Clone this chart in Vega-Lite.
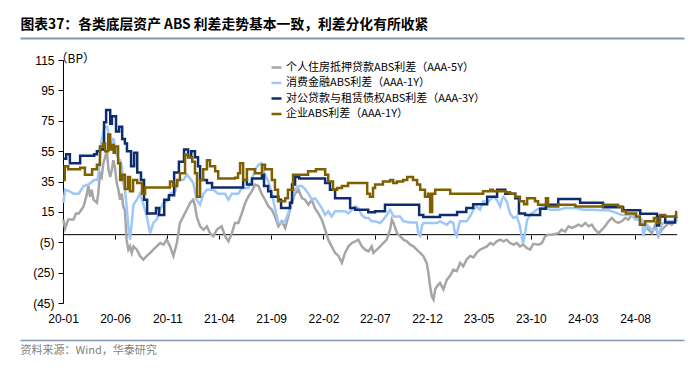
{
  "$schema": "https://vega.github.io/schema/vega-lite/v6.json",
  "width": 664,
  "height": 243,
  "autosize": {"type": "none"},
  "padding": {"left": 20, "top": 60, "right": 16, "bottom": 70},
  "background": "#ffffff",
  "config": {
    "view": {"stroke": null},
    "axis": {"grid": false, "labelFont": "Liberation Sans", "titleFont": "Noto Sans CJK SC"},
    "legend": {"labelFont": "Noto Sans CJK SC"}
  },
  "datasets": {
    "g": [
      {"d":"2020-01-02","v":10},{"d":"2020-01-07","v":4},{"d":"2020-01-16","v":9.9},{"d":"2020-02-01","v":9.9},{"d":"2020-02-08","v":14},{"d":"2020-02-16","v":14},{"d":"2020-03-01","v":18.6},{"d":"2020-03-10","v":26},{"d":"2020-03-15","v":32},{"d":"2020-03-20","v":25},{"d":"2020-03-25","v":29.6},{"d":"2020-03-30","v":23},{"d":"2020-04-09","v":21},{"d":"2020-04-13","v":27},{"d":"2020-04-18","v":40.5},{"d":"2020-04-23","v":38},{"d":"2020-04-28","v":47},{"d":"2020-05-08","v":55},{"d":"2020-05-13","v":42.8},{"d":"2020-05-18","v":38},{"d":"2020-05-23","v":43},{"d":"2020-05-27","v":49},{"d":"2020-06-01","v":44},{"d":"2020-06-06","v":34},{"d":"2020-06-11","v":29.6},{"d":"2020-06-16","v":23},{"d":"2020-06-21","v":27},{"d":"2020-06-25","v":18.6},{"d":"2020-06-30","v":16},{"d":"2020-07-05","v":-3.3},{"d":"2020-07-10","v":-9.9},{"d":"2020-07-15","v":-7.7},{"d":"2020-07-20","v":-12},{"d":"2020-07-25","v":-7.7},{"d":"2020-08-04","v":-9.9},{"d":"2020-08-13","v":-14},{"d":"2020-08-23","v":-16.4},{"d":"2020-09-02","v":-14},{"d":"2020-09-12","v":-12},{"d":"2020-09-21","v":-9.9},{"d":"2020-10-01","v":-7.7},{"d":"2020-10-11","v":-5.5},{"d":"2020-10-21","v":-6.6},{"d":"2020-10-30","v":-3.3},{"d":"2020-11-09","v":-7.7},{"d":"2020-11-19","v":-14},{"d":"2020-11-29","v":-5.5},{"d":"2020-12-08","v":7.7},{"d":"2020-12-18","v":12},{"d":"2020-12-28","v":16.4},
      {"d":"2021-01-07","v":21},{"d":"2021-01-16","v":23},{"d":"2021-01-21","v":19},{"d":"2021-01-26","v":12},{"d":"2021-02-05","v":5.5},{"d":"2021-02-15","v":3.3},{"d":"2021-02-25","v":5.5},{"d":"2021-03-06","v":1},{"d":"2021-03-16","v":-1},{"d":"2021-03-26","v":3.3},{"d":"2021-04-09","v":5.5},{"d":"2021-04-19","v":-1},{"d":"2021-04-29","v":-4.4},{"d":"2021-05-09","v":1},{"d":"2021-05-18","v":7.7},{"d":"2021-05-28","v":7.7},{"d":"2021-06-07","v":14},{"d":"2021-06-17","v":21},{"d":"2021-06-26","v":25},{"d":"2021-07-06","v":28.5},{"d":"2021-07-16","v":33},{"d":"2021-07-26","v":32},{"d":"2021-08-04","v":27},{"d":"2021-08-14","v":23},{"d":"2021-08-24","v":18.6},{"d":"2021-09-03","v":16.4},{"d":"2021-09-12","v":12},{"d":"2021-09-22","v":5.5},{"d":"2021-10-02","v":8.8},{"d":"2021-10-12","v":4.4},{"d":"2021-10-21","v":12},{"d":"2021-10-31","v":21},{"d":"2021-11-10","v":27},{"d":"2021-11-20","v":29.6},{"d":"2021-11-30","v":24},{"d":"2021-12-09","v":23},{"d":"2021-12-19","v":19.7},{"d":"2021-12-29","v":23},
      {"d":"2022-01-07","v":17.5},{"d":"2022-01-17","v":14},{"d":"2022-01-27","v":9.9},{"d":"2022-02-06","v":3.3},{"d":"2022-02-15","v":-3.3},{"d":"2022-02-25","v":-7.7},{"d":"2022-03-07","v":-12},{"d":"2022-03-17","v":-14},{"d":"2022-03-27","v":-18.6},{"d":"2022-04-05","v":-12},{"d":"2022-04-15","v":-7.7},{"d":"2022-04-25","v":-5.5},{"d":"2022-05-05","v":-4.4},{"d":"2022-05-14","v":-3.3},{"d":"2022-05-24","v":-7.7},{"d":"2022-06-03","v":-9.9},{"d":"2022-06-13","v":-11},{"d":"2022-06-22","v":-7.7},{"d":"2022-06-27","v":-12},{"d":"2022-07-07","v":-9.9},{"d":"2022-07-17","v":-7.7},{"d":"2022-07-26","v":-5.5},{"d":"2022-08-05","v":-3.3},{"d":"2022-08-15","v":3.3},{"d":"2022-08-20","v":9.9},{"d":"2022-08-25","v":7.7},{"d":"2022-09-04","v":1},{"d":"2022-09-13","v":-1},{"d":"2022-09-23","v":-3.3},{"d":"2022-10-03","v":-4.4},{"d":"2022-10-13","v":-6.6},{"d":"2022-10-22","v":-7.7},{"d":"2022-11-01","v":-9.9},{"d":"2022-11-11","v":-12},{"d":"2022-11-20","v":-14},{"d":"2022-11-30","v":-18.6},{"d":"2022-12-05","v":-25},{"d":"2022-12-10","v":-34},{"d":"2022-12-15","v":-40.6},{"d":"2022-12-20","v":-42.8},{"d":"2022-12-25","v":-36},{"d":"2022-12-30","v":-34},
      {"d":"2023-01-08","v":-31.8},{"d":"2023-01-18","v":-36},{"d":"2023-01-28","v":-29.6},{"d":"2023-02-07","v":-27},{"d":"2023-02-16","v":-23},{"d":"2023-02-26","v":-24},{"d":"2023-03-08","v":-18.6},{"d":"2023-03-17","v":-20.8},{"d":"2023-03-27","v":-16.4},{"d":"2023-04-06","v":-14},{"d":"2023-04-16","v":-15},{"d":"2023-04-25","v":-12},{"d":"2023-05-05","v":-9.9},{"d":"2023-05-15","v":-8.8},{"d":"2023-05-25","v":-7.7},{"d":"2023-06-04","v":-5.5},{"d":"2023-06-13","v":-6.6},{"d":"2023-06-23","v":-4.4},{"d":"2023-07-03","v":-3.3},{"d":"2023-07-13","v":-4.4},{"d":"2023-07-22","v":-3.3},{"d":"2023-08-01","v":-5.5},{"d":"2023-08-11","v":-6.6},{"d":"2023-08-21","v":-5.5},{"d":"2023-08-30","v":-7.7},{"d":"2023-09-09","v":-6.6},{"d":"2023-09-19","v":-8.8},{"d":"2023-09-29","v":-9.9},{"d":"2023-10-08","v":-6},{"d":"2023-10-23","v":-6.6},{"d":"2023-11-02","v":-5.5},{"d":"2023-11-12","v":-1},{"d":"2023-11-21","v":0},{"d":"2023-12-01","v":0},{"d":"2023-12-21","v":1},{"d":"2023-12-30","v":3.3},
      {"d":"2024-01-09","v":2},{"d":"2024-01-19","v":5.5},{"d":"2024-01-29","v":4.4},{"d":"2024-02-08","v":5.5},{"d":"2024-02-17","v":6.6},{"d":"2024-02-27","v":5.5},{"d":"2024-03-08","v":7.7},{"d":"2024-03-18","v":5.5},{"d":"2024-03-27","v":6.6},{"d":"2024-04-06","v":3.3},{"d":"2024-04-16","v":1},{"d":"2024-04-26","v":3.3},{"d":"2024-05-05","v":5.5},{"d":"2024-05-15","v":8.8},{"d":"2024-05-25","v":11},{"d":"2024-06-03","v":8.8},{"d":"2024-06-13","v":7.7},{"d":"2024-06-23","v":8.8},{"d":"2024-07-03","v":11},{"d":"2024-07-12","v":9.9},{"d":"2024-07-22","v":13},{"d":"2024-08-01","v":12},{"d":"2024-08-11","v":9.9},{"d":"2024-08-21","v":7.7},{"d":"2024-08-30","v":5.5},{"d":"2024-09-09","v":3.3},{"d":"2024-09-19","v":1},{"d":"2024-09-29","v":6.6},{"d":"2024-10-08","v":-1},{"d":"2024-10-18","v":3.3},{"d":"2024-10-28","v":5.5},{"d":"2024-11-07","v":7.7},{"d":"2024-11-16","v":6.6},{"d":"2024-11-26","v":8.8},{"d":"2024-12-02","v":10}
    ],
    "l": [
      {"d":"2020-01-02","v":21},{"d":"2020-01-07","v":29.6},{"d":"2020-01-16","v":29},{"d":"2020-02-01","v":27},{"d":"2020-02-16","v":27},{"d":"2020-03-01","v":32},{"d":"2020-03-16","v":33},{"d":"2020-04-01","v":36},{"d":"2020-04-11","v":36},{"d":"2020-04-16","v":45},{"d":"2020-04-21","v":60},{"d":"2020-05-01","v":71},{"d":"2020-05-09","v":71},{"d":"2020-05-13","v":67},{"d":"2020-05-23","v":56},{"d":"2020-05-27","v":63.6},{"d":"2020-06-06","v":52.6},{"d":"2020-06-11","v":50},{"d":"2020-06-16","v":49},{"d":"2020-06-21","v":45},{"d":"2020-06-25","v":34},{"d":"2020-06-30","v":29.6},{"d":"2020-07-05","v":18.6},{"d":"2020-07-10","v":5.5},{"d":"2020-07-15","v":-3.3},{"d":"2020-07-20","v":7.7},{"d":"2020-07-25","v":19.7},{"d":"2020-08-04","v":23},{"d":"2020-08-13","v":27},{"d":"2020-08-23","v":20},{"d":"2020-09-02","v":12},{"d":"2020-09-12","v":1},{"d":"2020-09-21","v":7.7},{"d":"2020-10-01","v":9.9},{"d":"2020-10-11","v":16.4},{"d":"2020-10-21","v":21},{"d":"2020-10-30","v":22},{"d":"2020-11-09","v":27},{"d":"2020-11-24","v":28.5},{"d":"2020-12-03","v":36},{"d":"2020-12-18","v":36},{"d":"2020-12-28","v":39.5},
      {"d":"2021-01-07","v":37},{"d":"2021-01-16","v":34},{"d":"2021-01-26","v":23},{"d":"2021-02-05","v":19.7},{"d":"2021-02-15","v":27},{"d":"2021-02-25","v":29.6},{"d":"2021-03-16","v":29.6},{"d":"2021-03-30","v":27},{"d":"2021-04-19","v":27},{"d":"2021-04-29","v":23},{"d":"2021-05-09","v":27},{"d":"2021-05-28","v":27},{"d":"2021-06-07","v":30.7},{"d":"2021-06-26","v":30.7},{"d":"2021-07-06","v":36},{"d":"2021-07-16","v":42.8},{"d":"2021-07-26","v":46},{"d":"2021-08-04","v":47},{"d":"2021-08-14","v":39.5},{"d":"2021-08-24","v":35},{"d":"2021-09-03","v":27},{"d":"2021-09-12","v":17.5},{"d":"2021-09-22","v":7.7},{"d":"2021-10-02","v":7.7},{"d":"2021-10-12","v":9},{"d":"2021-10-21","v":14},{"d":"2021-10-31","v":23},{"d":"2021-11-10","v":29.6},{"d":"2021-11-20","v":32},{"d":"2021-11-30","v":32},{"d":"2021-12-09","v":30},{"d":"2021-12-19","v":27},{"d":"2021-12-29","v":23},
      {"d":"2022-01-07","v":24},{"d":"2022-01-17","v":21},{"d":"2022-01-27","v":17.5},{"d":"2022-02-06","v":13},{"d":"2022-02-15","v":15.4},{"d":"2022-02-25","v":12},{"d":"2022-03-07","v":15.4},{"d":"2022-04-05","v":15.4},{"d":"2022-04-15","v":14},{"d":"2022-05-05","v":18.6},{"d":"2022-05-14","v":17.5},{"d":"2022-05-24","v":13},{"d":"2022-06-03","v":11},{"d":"2022-06-13","v":11},{"d":"2022-06-22","v":8.8},{"d":"2022-07-02","v":8.8},{"d":"2022-07-17","v":7.7},{"d":"2022-07-26","v":9.9},{"d":"2022-08-05","v":13},{"d":"2022-08-15","v":16.4},{"d":"2022-08-25","v":12},{"d":"2022-09-13","v":12},{"d":"2022-09-23","v":8.8},{"d":"2022-10-13","v":8},{"d":"2022-11-01","v":8},{"d":"2022-11-06","v":0},{"d":"2022-11-11","v":-1},{"d":"2022-11-16","v":5.5},{"d":"2022-11-20","v":7.7},{"d":"2022-12-30","v":7.7},
      {"d":"2023-01-08","v":8.8},{"d":"2023-01-28","v":6.6},{"d":"2023-02-07","v":8.8},{"d":"2023-02-16","v":7.7},{"d":"2023-02-21","v":1},{"d":"2023-02-26","v":-1},{"d":"2023-03-03","v":5.5},{"d":"2023-03-08","v":8.8},{"d":"2023-03-27","v":8.8},{"d":"2023-04-06","v":12},{"d":"2023-04-16","v":16.4},{"d":"2023-04-25","v":18.6},{"d":"2023-05-05","v":16.4},{"d":"2023-05-15","v":22},{"d":"2023-05-25","v":21},{"d":"2023-06-04","v":23},{"d":"2023-06-13","v":25},{"d":"2023-06-23","v":23},{"d":"2023-07-03","v":18.6},{"d":"2023-07-08","v":23},{"d":"2023-07-13","v":25},{"d":"2023-07-22","v":22},{"d":"2023-08-01","v":14},{"d":"2023-08-11","v":11},{"d":"2023-08-21","v":12},{"d":"2023-08-30","v":5.5},{"d":"2023-09-08","v":-6},{"d":"2023-09-14","v":1},{"d":"2023-09-20","v":9.9},{"d":"2023-09-29","v":13},{"d":"2023-10-04","v":14},{"d":"2023-10-18","v":16.4},{"d":"2023-11-07","v":18.6},{"d":"2023-11-26","v":16.4},{"d":"2023-12-21","v":16.4},
      {"d":"2024-01-09","v":17.5},{"d":"2024-02-08","v":17.5},{"d":"2024-03-03","v":16.4},{"d":"2024-03-27","v":16.4},{"d":"2024-04-26","v":16},{"d":"2024-05-15","v":16},{"d":"2024-06-03","v":14.7},{"d":"2024-06-23","v":13},{"d":"2024-07-22","v":13},{"d":"2024-08-01","v":9.9},{"d":"2024-08-21","v":9.9},{"d":"2024-08-25","v":-1},{"d":"2024-09-04","v":6.6},{"d":"2024-09-19","v":3.3},{"d":"2024-10-04","v":3.3},{"d":"2024-10-08","v":-1},{"d":"2024-10-18","v":6.6},{"d":"2024-10-28","v":8.8},{"d":"2024-11-26","v":8.8},{"d":"2024-12-02","v":12}
    ],
    "n": [
      {"d":"2020-01-02","v":50},{"d":"2020-01-10","v":53},{"d":"2020-01-21","v":47},{"d":"2020-02-20","v":52},{"d":"2020-04-01","v":53},{"d":"2020-04-09","v":55},{"d":"2020-04-18","v":56},{"d":"2020-04-30","v":74},{"d":"2020-05-06","v":82},{"d":"2020-05-18","v":73},{"d":"2020-05-23","v":78},{"d":"2020-06-04","v":68},{"d":"2020-06-13","v":71},{"d":"2020-06-22","v":63},{"d":"2020-06-30","v":60},{"d":"2020-07-06","v":55},{"d":"2020-07-18","v":45},{"d":"2020-07-27","v":54},{"d":"2020-08-05","v":41},{"d":"2020-08-16","v":36},{"d":"2020-08-25","v":23},{"d":"2020-09-03","v":14},{"d":"2020-09-29","v":17.5},{"d":"2020-10-08","v":13},{"d":"2020-10-23","v":23},{"d":"2020-11-06","v":26},{"d":"2020-11-21","v":41},{"d":"2020-12-05","v":48},{"d":"2020-12-20","v":56},
      {"d":"2021-01-01","v":51},{"d":"2021-01-10","v":55},{"d":"2021-01-21","v":51},{"d":"2021-01-30","v":45},{"d":"2021-02-05","v":36},{"d":"2021-02-25","v":34},{"d":"2021-03-12","v":31},{"d":"2021-06-11","v":36},{"d":"2021-06-22","v":33},{"d":"2021-07-07","v":37},{"d":"2021-08-05","v":39.5},{"d":"2021-08-11","v":32},{"d":"2021-08-23","v":28.5},{"d":"2021-09-01","v":25},{"d":"2021-09-22","v":23},{"d":"2021-09-30","v":17.5},{"d":"2021-10-26","v":21},{"d":"2021-11-01","v":33},{"d":"2021-11-10","v":38},{"d":"2021-11-22","v":37},
      {"d":"2022-02-06","v":34},{"d":"2022-02-20","v":29.6},{"d":"2022-03-07","v":24},{"d":"2022-04-20","v":17.5},{"d":"2022-05-05","v":16.4},{"d":"2022-06-12","v":14.7},{"d":"2022-07-02","v":15.4},{"d":"2022-07-31","v":19.7},{"d":"2022-11-08","v":13},{"d":"2022-11-20","v":11.6},
      {"d":"2023-01-08","v":13},{"d":"2023-02-27","v":15},{"d":"2023-03-26","v":17.5},{"d":"2023-04-15","v":20},{"d":"2023-05-26","v":25},{"d":"2023-06-24","v":29.6},{"d":"2023-07-18","v":27},{"d":"2023-08-16","v":24},{"d":"2023-08-27","v":14},{"d":"2023-09-14","v":13},{"d":"2023-10-28","v":17},{"d":"2023-11-14","v":19.7},{"d":"2023-12-20","v":23.5},
      {"d":"2024-02-22","v":21},{"d":"2024-04-29","v":18},{"d":"2024-06-27","v":16},{"d":"2024-08-16","v":13.8},{"d":"2024-10-04","v":6},{"d":"2024-10-10","v":12},{"d":"2024-10-28","v":8},{"d":"2024-11-26","v":12},{"d":"2024-12-02","v":12}
    ],
    "b": [
      {"d":"2020-01-02","v":36},{"d":"2020-01-06","v":45},{"d":"2020-01-16","v":43},{"d":"2020-02-20","v":44},{"d":"2020-03-05","v":39.5},{"d":"2020-03-26","v":43},{"d":"2020-04-09","v":46},{"d":"2020-04-18","v":58},{"d":"2020-04-27","v":60},{"d":"2020-05-03","v":55},{"d":"2020-05-12","v":66},{"d":"2020-05-18","v":56},{"d":"2020-05-23","v":59},{"d":"2020-05-28","v":54},{"d":"2020-06-01","v":58},{"d":"2020-06-10","v":47},{"d":"2020-06-16","v":36},{"d":"2020-06-22","v":39.5},{"d":"2020-06-30","v":30},{"d":"2020-07-09","v":38},{"d":"2020-07-15","v":28.5},{"d":"2020-07-24","v":36},{"d":"2020-08-05","v":34},{"d":"2020-08-19","v":27},{"d":"2020-08-28","v":31},{"d":"2020-11-09","v":35},{"d":"2020-11-18","v":32},{"d":"2020-11-30","v":36},{"d":"2020-12-08","v":40.5},{"d":"2020-12-23","v":52.6},
      {"d":"2021-01-01","v":51},{"d":"2021-01-13","v":48},{"d":"2021-01-21","v":40.5},{"d":"2021-01-27","v":25},{"d":"2021-02-05","v":36},{"d":"2021-02-14","v":43},{"d":"2021-02-25","v":49},{"d":"2021-03-06","v":45},{"d":"2021-03-21","v":41.7},{"d":"2021-03-30","v":37},{"d":"2021-05-18","v":37.5},{"d":"2021-05-27","v":40.5},{"d":"2021-06-02","v":47},{"d":"2021-06-11","v":36},{"d":"2021-06-22","v":43},{"d":"2021-07-16","v":40.5},{"d":"2021-08-05","v":46},{"d":"2021-08-14","v":43},{"d":"2021-09-03","v":36},{"d":"2021-09-12","v":29.6},{"d":"2021-09-21","v":22},{"d":"2021-10-12","v":24},{"d":"2021-10-20","v":29.6},{"d":"2021-11-04","v":39.5},{"d":"2021-12-18","v":41.7},
      {"d":"2022-01-10","v":43},{"d":"2022-02-06","v":39.5},{"d":"2022-02-15","v":35},{"d":"2022-03-01","v":29.6},{"d":"2022-03-13","v":30.7},{"d":"2022-03-27","v":32},{"d":"2022-04-14","v":34},{"d":"2022-06-09","v":27},{"d":"2022-06-17","v":25},{"d":"2022-06-26","v":30.7},{"d":"2022-07-02","v":33},{"d":"2022-07-25","v":35},{"d":"2022-08-15","v":36},{"d":"2022-08-24","v":34},{"d":"2022-09-04","v":35},{"d":"2022-09-22","v":36},{"d":"2022-10-04","v":38},{"d":"2022-10-21","v":36},{"d":"2022-11-02","v":33},{"d":"2022-11-11","v":29.6},{"d":"2022-11-25","v":25},{"d":"2022-12-04","v":27},{"d":"2022-12-10","v":15},{"d":"2022-12-16","v":27},{"d":"2022-12-25","v":29.6},
      {"d":"2023-02-07","v":27},{"d":"2023-05-14","v":28.5},{"d":"2023-06-04","v":29.6},{"d":"2023-06-12","v":28.5},{"d":"2023-07-18","v":28},{"d":"2023-08-01","v":27},{"d":"2023-08-16","v":25},{"d":"2023-08-30","v":22},{"d":"2023-09-11","v":20},{"d":"2023-09-20","v":24},{"d":"2023-10-13","v":22},{"d":"2023-10-22","v":19.7},{"d":"2023-11-14","v":24},{"d":"2023-11-20","v":18.6},{"d":"2023-12-20","v":19.7},
      {"d":"2024-02-08","v":18.6},{"d":"2024-04-29","v":19.7},{"d":"2024-06-12","v":18.6},{"d":"2024-06-24","v":15.4},{"d":"2024-07-05","v":14},{"d":"2024-08-04","v":12},{"d":"2024-08-15","v":6.6},{"d":"2024-08-30","v":8.8},{"d":"2024-09-25","v":11},{"d":"2024-10-04","v":7.7},{"d":"2024-10-13","v":13},{"d":"2024-10-28","v":12},{"d":"2024-11-29","v":15},{"d":"2024-12-02","v":15}
    ]
  },
  "resolve": {"axis": {"x": "independent", "y": "independent"}},
  "layer": [
    {
      "data": {"name": "g"},
      "mark": {"type": "rule", "color": "#000000", "strokeWidth": 1},
      "encoding": {
        "x": {"aggregate": "min", "field": "d", "type": "temporal", "axis": null,
              "scale": {"type": "utc", "domain": [{"year": 2019, "month": 8, "date": 28, "utc": true}, {"year": 2024, "month": 12, "date": 22, "utc": true}]}},
        "x2": {"aggregate": "max", "field": "d"},
        "y": {"datum": 0, "type": "quantitative", "axis": null, "scale": {"domain": [-45, 115], "nice": false, "zero": false}}
      }
    },
    {
      "data": {"name": "g"},
      "mark": {"type": "line", "strokeWidth": 2.5},
      "encoding": {
        "x": {"field": "d", "type": "temporal",
              "scale": {"type": "utc", "domain": [{"year": 2019, "month": 8, "date": 28, "utc": true}, {"year": 2024, "month": 12, "date": 22, "utc": true}]},
              "axis": {"orient": "bottom", "offset": -68, "domain": false, "ticks": true, "tickSize": 4, "tickColor": "#000000",
                       "labelPadding": 74, "labelFontSize": 12, "labelColor": "#000000", "labelFlush": false, "labelOverlap": false,
                       "format": "%y-%m", "title": null,
                       "values": [{"year":2020,"month":1,"date":1,"utc":true},{"year":2020,"month":6,"date":1,"utc":true},{"year":2020,"month":11,"date":1,"utc":true},{"year":2021,"month":4,"date":1,"utc":true},{"year":2021,"month":9,"date":1,"utc":true},{"year":2022,"month":2,"date":1,"utc":true},{"year":2022,"month":7,"date":1,"utc":true},{"year":2022,"month":12,"date":1,"utc":true},{"year":2023,"month":5,"date":1,"utc":true},{"year":2023,"month":10,"date":1,"utc":true},{"year":2024,"month":3,"date":1,"utc":true},{"year":2024,"month":8,"date":1,"utc":true}]}},
        "y": {"field": "v", "type": "quantitative", "scale": {"domain": [-45, 115], "nice": false, "zero": false},
              "axis": {"orient": "left", "offset": -43, "values": [-45, -25, -5, 15, 35, 55, 75, 95, 115],
                       "labelExpr": "datum.value < 0 ? '(' + abs(datum.value) + ')' : '' + datum.value",
                       "domain": true, "domainColor": "#000000", "ticks": true, "tickSize": 5, "tickColor": "#000000",
                       "labelPadding": 4, "labelFontSize": 12, "labelColor": "#000000", "labelOverlap": false, "labelFlush": false,
                       "title": "（BP）", "titleAngle": 0, "titleX": -8, "titleY": -2, "titleAlign": "left", "titleBaseline": "middle",
                       "titleFontSize": 12, "titleFontWeight": "normal", "titleColor": "#000000"}},
        "color": {"datum": "个人住房抵押贷款ABS利差（AAA-5Y）", "type": "nominal",
                  "scale": {"domain": ["个人住房抵押贷款ABS利差（AAA-5Y）", "消费金融ABS利差（AAA-1Y）", "对公贷款与租赁债权ABS利差（AAA-3Y）", "企业ABS利差（AAA-1Y）"],
                            "range": ["#a6a6a6", "#9ec8f7", "#0e2d6e", "#7f6000"]},
                  "legend": {"orient": "none", "legendX": 250, "legendY": 1, "direction": "vertical", "title": null,
                             "symbolType": "stroke", "symbolSize": 100, "symbolStrokeWidth": 2.5, "labelLimit": 0,
                             "labelFontSize": 11, "labelColor": "#000000", "rowPadding": 3.5, "labelOffset": 3, "padding": 0}}
      }
    },
    {
      "data": {"name": "l"},
      "mark": {"type": "line", "strokeWidth": 2.5},
      "encoding": {
        "x": {"field": "d", "type": "temporal",
              "axis": {"orient": "top", "offset": 22, "domain": true, "domainColor": "#8497b0", "domainWidth": 2,
                       "ticks": false, "labels": false,
                       "title": "图表37：各类底层资产 ABS 利差走势基本一致，利差分化有所收紧",
                       "titleX": 0, "titleY": -14, "titleAlign": "left", "titleAngle": 0, "titleBaseline": "middle",
                       "titleFontSize": 13.8, "titleFontWeight": "bold", "titleColor": "#000000"}},
        "y": {"field": "v", "type": "quantitative", "axis": null},
        "color": {"datum": "消费金融ABS利差（AAA-1Y）", "type": "nominal"}
      }
    },
    {
      "data": {"name": "n"},
      "mark": {"type": "line", "strokeWidth": 2.5, "interpolate": "step-after"},
      "encoding": {
        "x": {"field": "d", "type": "temporal",
              "axis": {"orient": "bottom", "offset": 37, "domain": true, "domainColor": "#8497b0", "domainWidth": 1.5,
                       "ticks": false, "labels": false,
                       "title": "资料来源：Wind，华泰研究",
                       "titleX": 0, "titleY": 10, "titleAlign": "left", "titleAngle": 0, "titleBaseline": "middle",
                       "titleFontSize": 11, "titleFontWeight": "normal", "titleColor": "#7f7f7f"}},
        "y": {"field": "v", "type": "quantitative", "axis": null},
        "color": {"datum": "对公贷款与租赁债权ABS利差（AAA-3Y）", "type": "nominal"}
      }
    },
    {
      "data": {"name": "b"},
      "mark": {"type": "line", "strokeWidth": 2.5, "interpolate": "step-after"},
      "encoding": {
        "x": {"field": "d", "type": "temporal", "axis": null},
        "y": {"field": "v", "type": "quantitative", "axis": null},
        "color": {"datum": "企业ABS利差（AAA-1Y）", "type": "nominal"}
      }
    }
  ]
}
